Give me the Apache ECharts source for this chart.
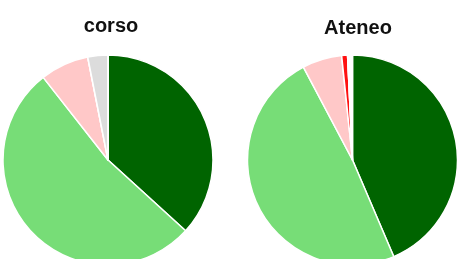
<!DOCTYPE html>
<html>
<head>
<meta charset="utf-8">
<script src="https://cdn.jsdelivr.net/npm/echarts@6/dist/echarts.min.js"></script>
<style>
  html, body { margin: 0; padding: 0; background: #fff; }
  #chart { width: 461px; height: 259px; }
</style>
</head>
<body>
<div id="chart"></div>
<script>
// categorie di risposta (stesso ordine in entrambe le torte)
const categories = ['Decisamente sì', 'Più sì che no', 'Più no che sì', 'Decisamente no', 'Non risponde', 'Non applicabile'];
const colors = ['#006400', '#77dd77', '#ffc8c8', '#ff1010', '#dcdcdc', '#ffffff'];
// percentuali
const corsoValues = [36.8, 52.7, 7.5, 0, 3.1, 0];
const ateneoValues = [43.6, 48.7, 6.1, 0.9, 0, 0.75];

function toData(values) {
  return values.map((v, i) => ({ name: categories[i], value: v, itemStyle: { color: colors[i] } }));
}

function pie(name, cx, values) {
  return {
    name: name,
    type: 'pie',
    center: [cx, 160],
    radius: 105,
    startAngle: 90,
    clockwise: true,
    avoidLabelOverlap: false,
    label: { show: false },
    labelLine: { show: false },
    emphasis: { disabled: true },
    itemStyle: { borderColor: '#fff', borderWidth: 1.5 },
    data: toData(values)
  };
}

const titleStyle = { fontFamily: 'Liberation Sans', fontWeight: 'bold', fontSize: 20, color: '#111' };

let myChart = echarts.init(document.getElementById('chart'));
myChart.setOption({
  animation: false,
  title: [
    { text: 'corso', left: 106, top: 11, textAlign: 'center', textStyle: titleStyle },
    { text: 'Ateneo', left: 353, top: 13, textAlign: 'center', textStyle: titleStyle }
  ],
  series: [
    pie('corso', 108, corsoValues),
    pie('Ateneo', 352.5, ateneoValues)
  ]
});
</script>
</body>
</html>
